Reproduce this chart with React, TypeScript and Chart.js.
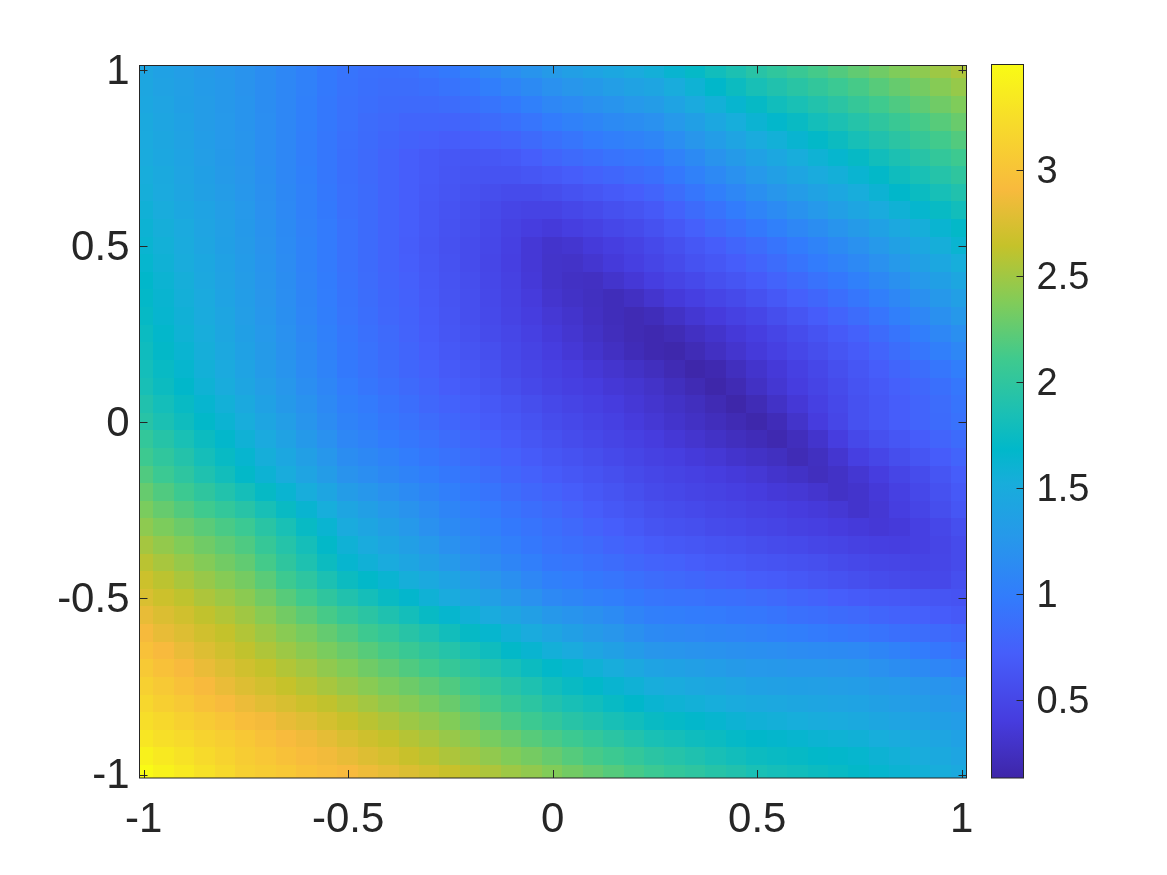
import React, { useEffect, useRef } from "react";
import { Chart, registerables } from "chart.js";

Chart.register(...registerables);

const xCentres = [-1,-0.95,-0.9,-0.85,-0.8,-0.75,-0.7,-0.65,-0.6,-0.55,-0.5,-0.45,-0.4,-0.35,-0.3,-0.25,-0.2,-0.15,-0.1,-0.05,0,0.05,0.1,0.15,0.2,0.25,0.3,0.35,0.4,0.45,0.5,0.55,0.6,0.65,0.7,0.75,0.8,0.85,0.9,0.95,1];
const yCentres = [1,0.95,0.9,0.85,0.8,0.75,0.7,0.65,0.6,0.55,0.5,0.45,0.4,0.35,0.3,0.25,0.2,0.15,0.1,0.05,0,-0.05,-0.1,-0.15,-0.2,-0.25,-0.3,-0.35,-0.4,-0.45,-0.5,-0.55,-0.6,-0.65,-0.7,-0.75,-0.8,-0.85,-0.9,-0.95,-1];
const xTicks = [-1, -0.5, 0, 0.5, 1];
const yTicks = [-1, -0.5, 0, 0.5, 1];
const barTicks = [0.5, 1, 1.5, 2, 2.5, 3];
const valueMin = 0.134;
const valueMax = 3.5;

// One row per y (top to bottom), one value per x (left to right).
const cells = [
[1.42,1.38,1.34,1.30,1.26,1.22,1.16,1.10,1.04,.97,.92,.89,.88,.89,.93,.97,1.03,1.10,1.17,1.23,1.30,1.35,1.40,1.45,1.50,1.55,1.63,1.71,1.79,1.87,1.95,2.01,2.07,2.13,2.19,2.25,2.31,2.37,2.43,2.49,2.55],
[1.44,1.39,1.35,1.31,1.27,1.22,1.16,1.10,1.04,.97,.91,.88,.86,.86,.88,.91,.95,1.01,1.07,1.13,1.20,1.25,1.29,1.34,1.39,1.43,1.51,1.59,1.68,1.76,1.84,1.90,1.96,2.02,2.08,2.14,2.21,2.27,2.33,2.40,2.46],
[1.45,1.41,1.36,1.32,1.27,1.23,1.16,1.10,1.03,.96,.90,.87,.84,.83,.83,.85,.88,.92,.97,1.03,1.10,1.14,1.19,1.23,1.28,1.32,1.40,1.48,1.56,1.64,1.72,1.79,1.85,1.91,1.97,2.04,2.11,2.17,2.24,2.31,2.37],
[1.47,1.42,1.38,1.32,1.28,1.23,1.17,1.10,1.03,.96,.90,.85,.82,.79,.79,.78,.80,.84,.88,.93,.99,1.04,1.08,1.13,1.16,1.20,1.28,1.36,1.45,1.53,1.61,1.67,1.74,1.81,1.87,1.93,2.00,2.07,2.14,2.21,2.28],
[1.48,1.44,1.39,1.33,1.28,1.24,1.17,1.10,1.02,.95,.89,.84,.80,.76,.74,.72,.73,.75,.78,.83,.89,.93,.98,1.02,1.05,1.09,1.17,1.25,1.33,1.41,1.49,1.56,1.63,1.70,1.76,1.83,1.90,1.97,2.05,2.12,2.19],
[1.50,1.45,1.40,1.34,1.29,1.24,1.17,1.10,1.02,.95,.88,.83,.78,.73,.69,.66,.65,.66,.68,.73,.79,.83,.87,.91,.94,.97,1.05,1.13,1.22,1.30,1.38,1.45,1.52,1.59,1.65,1.72,1.80,1.87,1.95,2.03,2.10],
[1.52,1.47,1.41,1.36,1.30,1.25,1.18,1.10,1.03,.95,.88,.83,.78,.73,.69,.65,.63,.62,.62,.65,.68,.72,.76,.80,.84,.88,.96,1.04,1.12,1.20,1.28,1.35,1.42,1.49,1.55,1.62,1.70,1.78,1.85,1.93,2.00],
[1.54,1.48,1.43,1.37,1.32,1.26,1.19,1.11,1.04,.96,.89,.84,.78,.73,.68,.64,.60,.57,.55,.55,.57,.61,.65,.69,.73,.78,.86,.94,1.02,1.10,1.18,1.25,1.32,1.39,1.45,1.52,1.60,1.68,1.75,1.83,1.90],
[1.57,1.51,1.45,1.40,1.34,1.28,1.20,1.12,1.04,.97,.89,.84,.78,.73,.67,.62,.58,.54,.49,.47,.47,.51,.55,.59,.63,.68,.76,.84,.91,.99,1.07,1.14,1.21,1.28,1.35,1.42,1.50,1.58,1.65,1.73,1.80],
[1.60,1.54,1.48,1.41,1.35,1.29,1.21,1.13,1.05,.98,.90,.84,.78,.73,.67,.61,.57,.52,.46,.41,.38,.42,.46,.51,.55,.60,.67,.74,.82,.89,.96,1.03,1.10,1.16,1.23,1.30,1.38,1.46,1.54,1.62,1.70],
[1.62,1.56,1.49,1.43,1.36,1.30,1.22,1.14,1.06,.98,.90,.84,.78,.72,.66,.60,.56,.51,.44,.36,.31,.33,.38,.42,.47,.53,.59,.66,.72,.79,.85,.92,.99,1.06,1.13,1.20,1.28,1.37,1.45,1.54,1.62],
[1.65,1.58,1.51,1.45,1.38,1.31,1.23,1.15,1.06,.98,.90,.84,.78,.73,.67,.61,.56,.50,.43,.36,.30,.29,.33,.38,.43,.49,.55,.61,.66,.72,.78,.85,.92,.99,1.05,1.12,1.20,1.28,1.37,1.45,1.53],
[1.68,1.61,1.54,1.46,1.39,1.32,1.24,1.16,1.07,.99,.91,.85,.79,.74,.68,.62,.57,.51,.45,.37,.30,.27,.26,.31,.36,.42,.48,.53,.59,.64,.70,.77,.83,.90,.96,1.03,1.11,1.19,1.28,1.36,1.44],
[1.70,1.63,1.55,1.48,1.40,1.33,1.25,1.17,1.08,1.00,.92,.86,.80,.75,.69,.63,.58,.52,.46,.39,.32,.28,.25,.22,.26,.32,.38,.43,.49,.54,.60,.67,.74,.80,.87,.94,1.02,1.10,1.19,1.27,1.35],
[1.72,1.64,1.57,1.49,1.42,1.34,1.26,1.18,1.09,1.01,.93,.87,.81,.76,.70,.64,.58,.53,.47,.41,.35,.31,.26,.22,.19,.22,.28,.34,.39,.45,.50,.57,.64,.71,.78,.85,.93,1.02,1.10,1.19,1.27],
[1.75,1.67,1.59,1.52,1.44,1.36,1.28,1.20,1.11,1.03,.95,.89,.83,.77,.71,.65,.60,.55,.50,.44,.38,.33,.28,.23,.19,.17,.20,.26,.31,.37,.42,.49,.56,.62,.69,.75,.84,.92,1.01,1.10,1.18],
[1.78,1.70,1.62,1.54,1.46,1.38,1.30,1.21,1.13,1.04,.96,.90,.84,.79,.73,.67,.63,.58,.52,.47,.41,.36,.31,.26,.21,.17,.15,.20,.26,.32,.38,.44,.51,.57,.64,.70,.78,.86,.94,1.02,1.10],
[1.81,1.73,1.65,1.56,1.48,1.40,1.31,1.23,1.14,1.06,.97,.91,.86,.80,.75,.69,.65,.60,.54,.49,.44,.40,.36,.32,.28,.24,.19,.14,.17,.24,.31,.37,.44,.51,.58,.65,.72,.79,.86,.94,1.01],
[1.84,1.76,1.68,1.59,1.51,1.43,1.34,1.26,1.17,1.09,1.00,.94,.89,.83,.78,.72,.68,.63,.57,.52,.47,.43,.40,.36,.33,.29,.24,.19,.14,.19,.27,.34,.41,.48,.55,.62,.68,.74,.81,.88,.95],
[1.90,1.81,1.73,1.64,1.56,1.47,1.38,1.29,1.21,1.12,1.03,.98,.92,.87,.81,.76,.72,.67,.62,.57,.52,.48,.44,.40,.36,.32,.28,.24,.19,.14,.20,.28,.36,.44,.52,.60,.66,.72,.78,.85,.92],
[1.95,1.86,1.78,1.69,1.61,1.52,1.43,1.34,1.24,1.15,1.06,1.01,.95,.90,.85,.80,.75,.70,.66,.61,.56,.52,.48,.44,.39,.35,.31,.27,.23,.19,.15,.21,.30,.40,.50,.60,.66,.72,.78,.84,.90],
[2.03,1.94,1.85,1.76,1.67,1.58,1.48,1.39,1.29,1.20,1.10,1.05,.99,.95,.90,.85,.80,.75,.70,.65,.60,.56,.52,.48,.44,.40,.36,.32,.28,.24,.21,.17,.23,.31,.41,.52,.59,.65,.71,.78,.84],
[2.10,2.01,1.92,1.82,1.73,1.64,1.54,1.45,1.35,1.26,1.16,1.11,1.06,1.00,.95,.90,.85,.80,.75,.70,.65,.61,.57,.53,.49,.45,.42,.38,.35,.31,.28,.25,.20,.25,.33,.43,.50,.57,.64,.71,.78],
[2.18,2.08,1.99,1.89,1.80,1.70,1.60,1.51,1.41,1.32,1.22,1.17,1.11,1.06,1.01,.96,.91,.86,.80,.75,.70,.66,.62,.58,.54,.50,.47,.44,.41,.38,.35,.31,.28,.24,.28,.34,.41,.49,.56,.64,.72],
[2.27,2.18,2.09,2.00,1.91,1.82,1.72,1.62,1.52,1.42,1.32,1.26,1.20,1.14,1.08,1.02,.97,.92,.86,.81,.76,.72,.67,.63,.58,.54,.51,.48,.46,.43,.40,.37,.35,.32,.28,.31,.37,.44,.52,.60,.68],
[2.35,2.27,2.19,2.11,2.03,1.95,1.84,1.74,1.63,1.53,1.42,1.35,1.28,1.22,1.15,1.08,1.03,.98,.92,.87,.82,.77,.72,.67,.63,.58,.56,.53,.50,.48,.45,.43,.40,.38,.35,.31,.35,.42,.49,.57,.65],
[2.43,2.36,2.29,2.22,2.15,2.08,1.96,1.85,1.73,1.62,1.50,1.43,1.35,1.28,1.20,1.13,1.08,1.03,.97,.92,.87,.82,.77,.73,.68,.63,.60,.58,.55,.53,.50,.48,.45,.43,.40,.38,.36,.38,.44,.51,.58],
[2.52,2.45,2.38,2.31,2.24,2.17,2.05,1.93,1.82,1.70,1.58,1.50,1.43,1.35,1.28,1.20,1.14,1.08,1.02,.96,.90,.87,.83,.78,.74,.70,.67,.65,.62,.60,.57,.55,.53,.50,.48,.45,.43,.42,.44,.49,.55],
[2.60,2.53,2.46,2.39,2.32,2.25,2.13,2.00,1.88,1.76,1.64,1.57,1.49,1.42,1.35,1.28,1.21,1.15,1.08,1.02,.95,.93,.89,.85,.81,.77,.75,.72,.69,.67,.64,.62,.60,.58,.55,.52,.50,.49,.48,.50,.55],
[2.68,2.61,2.54,2.47,2.40,2.33,2.22,2.10,1.99,1.87,1.76,1.69,1.62,1.54,1.47,1.40,1.33,1.25,1.18,1.10,1.03,1.00,.96,.93,.89,.85,.82,.80,.77,.75,.72,.70,.67,.64,.61,.58,.56,.54,.52,.52,.58],
[2.75,2.68,2.62,2.55,2.49,2.42,2.32,2.21,2.11,2.00,1.90,1.82,1.74,1.66,1.58,1.50,1.42,1.35,1.27,1.20,1.12,1.08,1.04,1.01,.97,.93,.91,.90,.88,.87,.85,.82,.79,.76,.73,.70,.68,.67,.65,.64,.62],
[2.83,2.76,2.70,2.63,2.57,2.50,2.41,2.32,2.23,2.14,2.05,1.97,1.89,1.81,1.73,1.65,1.57,1.50,1.42,1.35,1.27,1.23,1.19,1.14,1.07,1.02,1.01,.99,.98,.96,.95,.92,.89,.87,.84,.82,.79,.76,.74,.71,.68],
[2.90,2.83,2.77,2.70,2.64,2.57,2.49,2.41,2.34,2.26,2.18,2.10,2.03,1.95,1.88,1.80,1.72,1.65,1.57,1.50,1.42,1.36,1.30,1.25,1.19,1.13,1.11,1.10,1.08,1.07,1.05,1.03,1.01,.98,.96,.94,.91,.88,.86,.83,.80],
[2.98,2.91,2.84,2.77,2.70,2.63,2.56,2.49,2.42,2.35,2.28,2.21,2.14,2.07,2.00,1.93,1.85,1.78,1.70,1.63,1.55,1.49,1.43,1.37,1.31,1.25,1.24,1.22,1.21,1.19,1.18,1.17,1.15,1.14,1.13,1.12,1.08,1.04,.99,.95,.90],
[3.05,2.98,2.91,2.84,2.77,2.70,2.64,2.57,2.51,2.44,2.38,2.31,2.25,2.18,2.12,2.05,1.98,1.91,1.83,1.76,1.69,1.64,1.58,1.52,1.46,1.40,1.38,1.35,1.33,1.30,1.28,1.27,1.26,1.26,1.25,1.24,1.20,1.16,1.13,1.09,1.05],
[3.12,3.05,2.98,2.91,2.84,2.77,2.71,2.65,2.59,2.53,2.47,2.41,2.35,2.30,2.24,2.18,2.10,2.03,1.95,1.88,1.80,1.74,1.69,1.63,1.58,1.52,1.49,1.46,1.44,1.41,1.38,1.37,1.36,1.35,1.34,1.33,1.30,1.28,1.25,1.23,1.20],
[3.18,3.11,3.05,2.98,2.92,2.85,2.79,2.74,2.68,2.63,2.57,2.51,2.45,2.40,2.34,2.28,2.20,2.13,2.05,1.98,1.90,1.84,1.79,1.73,1.68,1.62,1.59,1.56,1.53,1.50,1.47,1.46,1.44,1.43,1.41,1.40,1.37,1.34,1.32,1.29,1.26],
[3.25,3.19,3.13,3.07,3.01,2.95,2.89,2.83,2.78,2.72,2.66,2.60,2.55,2.49,2.44,2.38,2.31,2.24,2.16,2.09,2.02,1.95,1.90,1.84,1.79,1.74,1.71,1.67,1.64,1.60,1.57,1.55,1.53,1.51,1.49,1.47,1.44,1.41,1.39,1.36,1.33],
[3.32,3.26,3.21,3.15,3.10,3.04,2.98,2.92,2.87,2.81,2.75,2.69,2.64,2.58,2.53,2.47,2.41,2.34,2.28,2.21,2.15,2.09,2.03,1.97,1.91,1.85,1.82,1.78,1.75,1.71,1.68,1.66,1.64,1.61,1.59,1.57,1.53,1.49,1.46,1.42,1.38],
[3.41,3.34,3.28,3.21,3.15,3.08,3.03,2.98,2.93,2.88,2.83,2.77,2.72,2.66,2.61,2.55,2.50,2.44,2.38,2.33,2.27,2.20,2.14,2.09,2.03,1.97,1.93,1.89,1.84,1.80,1.76,1.74,1.72,1.69,1.67,1.65,1.60,1.56,1.51,1.47,1.42],
[3.50,3.42,3.35,3.27,3.20,3.12,3.08,3.04,2.99,2.95,2.91,2.86,2.81,2.76,2.71,2.66,2.60,2.55,2.49,2.44,2.38,2.32,2.26,2.20,2.14,2.08,2.03,1.99,1.94,1.90,1.85,1.82,1.79,1.76,1.73,1.70,1.65,1.61,1.56,1.52,1.47],
];

// Parula colour map: position in the map, then red, green, blue (0..1).
const parulaStops = [
  [0 / 63, 0.2422, 0.1504, 0.6603],
  [5 / 63, 0.2751, 0.2342, 0.871],
  [11 / 63, 0.276, 0.3667, 0.9829],
  [16 / 63, 0.1963, 0.4847, 0.9892],
  [21 / 63, 0.154, 0.5902, 0.9218],
  [26 / 63, 0.0952, 0.6798, 0.8598],
  [29 / 63, 0.0036, 0.7203, 0.7917],
  [32 / 63, 0.0964, 0.75, 0.712],
  [37 / 63, 0.247, 0.7918, 0.5567],
  [42 / 63, 0.5044, 0.7993, 0.348],
  [47 / 63, 0.7738, 0.7598, 0.1646],
  [52 / 63, 0.9728, 0.7298, 0.2394],
  [58 / 63, 0.9676, 0.8639, 0.1643],
  [63 / 63, 0.9769, 0.9839, 0.0805],
];

const INK = "#262626";
const AXIS_FONT = { family: "'Liberation Sans', Arial, sans-serif", size: 42 };
const BAR_FONT = { family: "'Liberation Sans', Arial, sans-serif", size: 38 };

const rgb = (r: number, g: number, b: number) =>
  `rgb(${Math.round(r * 255)},${Math.round(g * 255)},${Math.round(b * 255)})`;

function colourFor(v: number) {
  const t = Math.min(1, Math.max(0, (v - valueMin) / (valueMax - valueMin)));
  for (let i = 1; i < parulaStops.length; i++) {
    const a = parulaStops[i - 1];
    const b = parulaStops[i];
    if (t <= b[0]) {
      const f = (t - a[0]) / (b[0] - a[0]);
      return rgb(a[1] + (b[1] - a[1]) * f, a[2] + (b[2] - a[2]) * f, a[3] + (b[3] - a[3]) * f);
    }
  }
  const l = parulaStops[parulaStops.length - 1];
  return rgb(l[1], l[2], l[3]);
}

const cellPoints = yCentres.flatMap((y, r) => xCentres.map((x, c) => ({ x, y, v: cells[r][c] })));

const tileCache = new Map<string, HTMLCanvasElement>();
function tile(colour: string, w: number, h: number) {
  const key = `${colour}|${w}|${h}`;
  let c = tileCache.get(key);
  if (!c) {
    c = document.createElement("canvas");
    c.width = w;
    c.height = h;
    const g = c.getContext("2d")!;
    g.fillStyle = colour;
    g.fillRect(0, 0, w, h);
    tileCache.set(key, c);
  }
  return c;
}

const frameAndTicks = {
  id: "frameAndTicks",
  afterDraw(chart: any, _args: any, opts: any) {
    const { ctx, chartArea: a, scales } = chart;
    ctx.save();
    ctx.strokeStyle = INK;
    ctx.lineWidth = 1;
    ctx.strokeRect(a.left, a.top, a.right - a.left, a.bottom - a.top);
    ctx.beginPath();
    const len = opts.length;
    if (opts.sides.includes("x")) {
      for (const t of xTicks) {
        const p = Math.round(scales.x.getPixelForValue(t)) + 0.5;
        ctx.moveTo(p, a.bottom);
        ctx.lineTo(p, a.bottom - len);
        ctx.moveTo(p, a.top);
        ctx.lineTo(p, a.top + len);
      }
      for (const t of yTicks) {
        const p = Math.round(scales.y.getPixelForValue(t)) + 0.5;
        ctx.moveTo(a.left, p);
        ctx.lineTo(a.left + len, p);
        ctx.moveTo(a.right, p);
        ctx.lineTo(a.right - len, p);
      }
    } else {
      for (const t of barTicks) {
        const p = Math.round(scales.y.getPixelForValue(t)) + 0.5;
        ctx.moveTo(a.right, p);
        ctx.lineTo(a.right - len, p);
      }
    }
    ctx.stroke();
    ctx.restore();
  },
};

export default function App() {
  const mapRef = useRef<HTMLCanvasElement>(null);
  const barRef = useRef<HTMLCanvasElement>(null);

  useEffect(() => {
    const map = new Chart(mapRef.current!, {
      type: "scatter",
      plugins: [frameAndTicks],
      data: {
        datasets: [
          {
            data: cellPoints,
            clip: 0,
            pointRadius: 1,
            pointBorderWidth: 0,
            pointStyle: (ctx: any) => {
              const { x, y } = ctx.chart.scales;
              const w = Math.ceil(Math.abs(x.getPixelForValue(0.05) - x.getPixelForValue(0))) + 1;
              const h = Math.ceil(Math.abs(y.getPixelForValue(0.05) - y.getPixelForValue(0))) + 1;
              return tile(colourFor(ctx.raw ? ctx.raw.v : 1), w, h);
            },
          } as any,
        ],
      },
      options: {
        animation: false,
        responsive: false,
        events: [],
        layout: { padding: { left: 0, top: 65.5, right: 200.5, bottom: 0 } },
        plugins: {
          legend: { display: false },
          tooltip: { enabled: false },
          frameAndTicks: { length: 8, sides: "x" },
        } as any,
        scales: {
          x: {
            type: "linear",
            min: -1.0103,
            max: 1.0117,
            grid: { display: false, drawTicks: false },
            border: { display: false },
            afterBuildTicks: (s: any) => { s.ticks = xTicks.map((value) => ({ value })); },
            afterFit: (s: any) => { s.height = 97; },
            ticks: { color: INK, font: AXIS_FONT, padding: 17, maxRotation: 0, autoSkip: false, callback: (v: any) => String(v) },
          },
          y: {
            type: "linear",
            min: -1.0099,
            max: 1.0128,
            grid: { display: false, drawTicks: false },
            border: { display: false },
            afterBuildTicks: (s: any) => { s.ticks = yTicks.map((value) => ({ value })); },
            afterFit: (s: any) => { s.width = 139.5; },
            ticks: { color: INK, font: AXIS_FONT, padding: 10, labelOffset: 2, autoSkip: false, callback: (v: any) => String(v) },
          },
        },
      },
    });

    const bar = new Chart(barRef.current!, {
      type: "bar",
      plugins: [frameAndTicks],
      data: {
        labels: ["range"],
        datasets: [
          {
            data: [[valueMin, valueMax]],
            barPercentage: 1,
            categoryPercentage: 1,
            borderWidth: 0,
            backgroundColor: (ctx: any) => {
              const area = ctx.chart.chartArea;
              if (!area) return "#1ab0d8";
              const g = ctx.chart.ctx.createLinearGradient(0, area.bottom, 0, area.top);
              for (const s of parulaStops) g.addColorStop(s[0], rgb(s[1], s[2], s[3]));
              return g;
            },
          } as any,
        ],
      },
      options: {
        animation: false,
        responsive: false,
        events: [],
        layout: { padding: { left: 21.5, top: 64.5, right: 0, bottom: 97 } },
        plugins: {
          legend: { display: false },
          tooltip: { enabled: false },
          frameAndTicks: { length: 7, sides: "y" },
        } as any,
        scales: {
          x: { display: false },
          y: {
            type: "linear",
            position: "right",
            min: valueMin,
            max: valueMax,
            grid: { display: false, drawTicks: false },
            border: { display: false },
            afterBuildTicks: (s: any) => { s.ticks = barTicks.map((value) => ({ value })); },
            afterFit: (s: any) => { s.width = 143.5; },
            ticks: { color: INK, font: BAR_FONT, padding: 13, labelOffset: 2, autoSkip: false, callback: (v: any) => String(v) },
          },
        },
      },
    });

    return () => {
      map.destroy();
      bar.destroy();
    };
  }, []);

  return (
    <div style={{ position: "absolute", left: 0, top: 0, width: 1167, height: 875, background: "#fff", overflow: "hidden" }}>
      <canvas ref={mapRef} width={1167} height={875} style={{ position: "absolute", left: 0, top: 0, width: 1167, height: 875 }} />
      <canvas ref={barRef} width={197} height={875} style={{ position: "absolute", left: 970, top: 0, width: 197, height: 875 }} />
    </div>
  );
}
